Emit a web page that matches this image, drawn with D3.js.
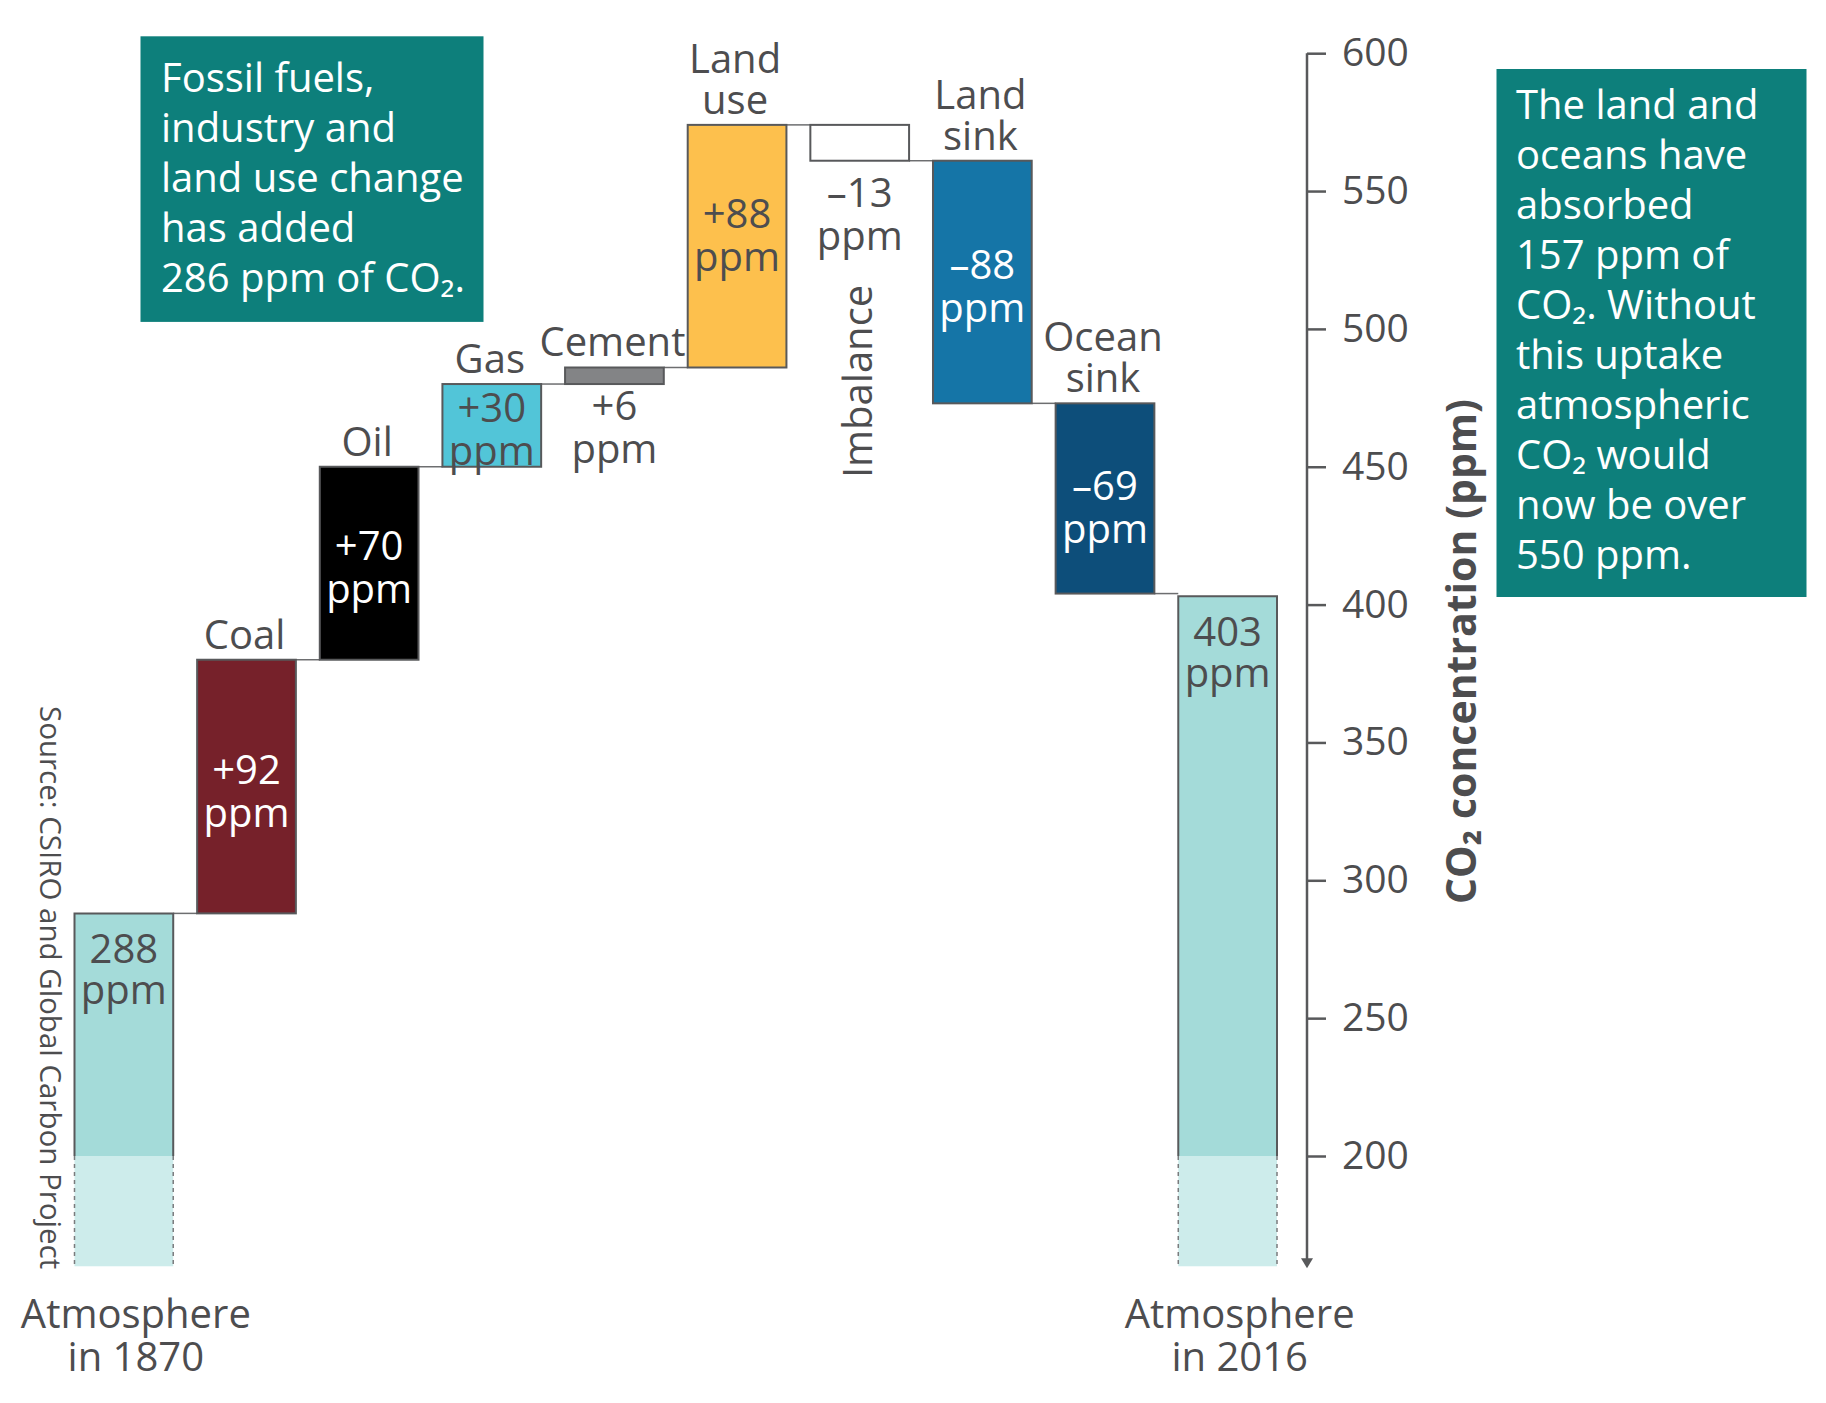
<!DOCTYPE html>
<html>
<head>
<meta charset="utf-8">
<script src="https://cdn.jsdelivr.net/npm/d3@7"></script>
<style>
	body { margin: 0; background: #fff; }
	text { font-family: "Open Sans", "Noto Sans", sans-serif; }
</style>
</head>
<body>
<svg id="chart"></svg>
<script>
// data
var startLabel	= ["Atmosphere", "in 1870"],
	endLabel	= ["Atmosphere", "in 2016"];
var startValue	= 288,
	endValue	= 403;
var flowNames	= [["Coal"], ["Oil"], ["Gas"], ["Cement"], ["Land", "use"], ["Imbalance"], ["Land", "sink"], ["Ocean", "sink"]];
var flowValues	= [92, 70, 30, 6, 88, -13, -88, -69];
var flowColors	= ["#76212a", "#000000", "#52c5d8", "#838486", "#fdc04d", "#ffffff", "#1575a7", "#0d4e7a"];
var yTicks	= [200, 250, 300, 350, 400, 450, 500, 550, 600];
var leftNote	= ["Fossil fuels,", "industry and", "land use change", "has added", "286 ppm of CO\u2082."];
var rightNote	= ["The land and", "oceans have", "absorbed", "157 ppm of", "CO\u2082. Without", "this uptake", "atmospheric", "CO\u2082 would", "now be over", "550 ppm."];
var axisTitle	= "CO\u2082 concentration (ppm)";
var sourceText	= "Source: CSIRO and Global Carbon Project";

(function() {
	var width = 1826, height = 1403,
		ink = "#4d4d4f", edge = "#58595b", teal = "#0d7f7b",
		atmoFill = "#a4dbd9", atmoLight = "#cdeceb",
		fontSize = 40, lineH = 41, baseValue = 160;

	var svg = d3.select("#chart").attr("width", width).attr("height", height);

	// running totals
	var steps = [], level = startValue;
	flowValues.forEach(function(v, i) {
		steps.push({ key: flowNames[i].join(" "), lines: flowNames[i], value: v, from: level, to: level + v, color: flowColors[i] });
		level += v;
	});
	var keys = ["start"].concat(steps.map(function(d) { return d.key; }), ["end"]);

	var x = d3.scaleBand().domain(keys).range([74.5, 1277]).paddingInner(0.195);
	var y = d3.scaleLinear().domain([200, 600]).range([1156, 53.2]);
	var bw = x.bandwidth();

	function fmt(v) { return (v > 0 ? "+" : "\u2013") + Math.abs(v); }
	function isDark(c) { return d3.hsl(c).l < 0.45; }

	// connectors
	var levels = [startValue].concat(steps.map(function(d) { return d.to; }));
	svg.append("g").selectAll("line").data(levels).enter().append("line")
		.attr("x1", function(d, i) { return x(keys[i]) + bw; })
		.attr("x2", function(d, i) { return x(keys[i + 1]); })
		.attr("y1", function(d) { return y(d); })
		.attr("y2", function(d) { return y(d); })
		.attr("stroke", "#6d6e70").attr("stroke-width", 1.5);

	// atmosphere columns
	var atmo = [{ key: "start", value: startValue, label: startLabel }, { key: "end", value: endValue, label: endLabel }];
	var ga = svg.append("g").selectAll("g").data(atmo).enter().append("g");
	ga.append("rect")
		.attr("x", function(d) { return x(d.key); }).attr("width", bw)
		.attr("y", y(200)).attr("height", y(baseValue) - y(200))
		.attr("fill", atmoLight);
	ga.append("rect")
		.attr("x", function(d) { return x(d.key); }).attr("width", bw)
		.attr("y", function(d) { return y(d.value); })
		.attr("height", function(d) { return y(200) - y(d.value); })
		.attr("fill", atmoFill);
	ga.append("path")
		.attr("d", function(d) { var l = x(d.key), r = l + bw; return "M" + l + "," + y(200) + "V" + y(d.value) + "H" + r + "V" + y(200); })
		.attr("fill", "none").attr("stroke", edge).attr("stroke-width", 2);
	ga.append("path")
		.attr("d", function(d) { var l = x(d.key), r = l + bw; return "M" + l + "," + y(200) + "V" + y(baseValue) + "M" + r + "," + y(200) + "V" + y(baseValue); })
		.attr("fill", "none").attr("stroke", "#7a7b7d").attr("stroke-width", 1.5).attr("stroke-dasharray", "4,4");
	ga.append("text")
		.attr("text-anchor", "middle").attr("fill", ink).style("font-size", fontSize + "px")
		.attr("x", function(d) { return x(d.key) + bw / 2; })
		.attr("y", function(d) { return y(d.value) + 50; })
		.selectAll("tspan").data(function(d) { return [d.value, "ppm"]; }).enter().append("tspan")
		.attr("x", function() { return d3.select(this.parentNode).attr("x"); })
		.attr("dy", function(d, i) { return i ? lineH : 0; })
		.text(function(d) { return d; });
	ga.append("text")
		.attr("text-anchor", "middle").attr("fill", ink).style("font-size", fontSize + "px")
		.selectAll("tspan").data(function(d) { return d.label.map(function(t) { return { t: t, k: d.key }; }); }).enter().append("tspan")
		.attr("x", function(d) { return x(d.k) + bw / 2 + 12; })
		.attr("y", function(d, i) { return 1328 + i * 43; })
		.text(function(d) { return d.t; });

	// flow bars
	var gs = svg.append("g").selectAll("g").data(steps).enter().append("g");
	gs.append("rect")
		.attr("x", function(d) { return x(d.key); }).attr("width", bw)
		.attr("y", function(d) { return y(Math.max(d.from, d.to)); })
		.attr("height", function(d) { return Math.abs(y(d.from) - y(d.to)); })
		.attr("fill", function(d) { return d.color; })
		.attr("stroke", edge).attr("stroke-width", 2);

	// names above the bars (imbalance is written sideways below)
	gs.filter(function(d) { return d.key != "Imbalance"; }).append("text")
		.attr("text-anchor", "middle").attr("fill", ink).style("font-size", fontSize + "px")
		.selectAll("tspan").data(function(d) { var n = d.lines.length; return d.lines.map(function(t, i) { return { t: t, d: d, off: n - 1 - i }; }); })
		.enter().append("tspan")
		.attr("x", function(e) { return x(e.d.key) + bw / 2 - 2; })
		.attr("y", function(e) { return y(Math.max(e.d.from, e.d.to)) - 11 - e.off * lineH; })
		.text(function(e) { return e.t; });

	// value labels: inside tall bars, under thin ones
	var nudge = { "Land use": -15, "Cement": -4, "Imbalance": 6, "Ocean sink": 5 };
	gs.append("text")
		.attr("text-anchor", "middle").style("font-size", fontSize + "px")
		.attr("fill", function(d) { return isDark(d.color) ? "#fff" : ink; })
		.each(function(d) {
			var top = y(Math.max(d.from, d.to)), bot = y(Math.min(d.from, d.to)),
				cx = x(d.key) + bw / 2,
				yy = (bot - top > 60 ? (top + bot) / 2 - 3 : bot + 40) + (nudge[d.key] || 0);
			d.labelY = yy;
			d3.select(this).selectAll("tspan").data([fmt(d.value), "ppm"]).enter().append("tspan")
				.attr("x", cx).attr("y", function(t, i) { return yy + i * 43; })
				.text(function(t) { return t; });
		});
	gs.filter(function(d) { return d.key == "Imbalance"; }).append("text")
		.attr("text-anchor", "end").attr("fill", ink).style("font-size", fontSize + "px")
		.attr("transform", function(d) { return "translate(" + (x(d.key) + bw / 2 + 12) + "," + (d.labelY + 43 + 35) + ") rotate(-90)"; })
		.text(function(d) { return d.key; });

	// y axis
	var ax = svg.append("g").attr("transform", "translate(1307,0)")
		.call(d3.axisRight(y).tickValues(yTicks).tickSize(19).tickSizeOuter(0).tickPadding(16));
	ax.select(".domain").remove();
	ax.selectAll(".tick line").attr("stroke", edge).attr("stroke-width", 2.5);
	ax.selectAll(".tick text").attr("fill", ink).style("font-size", "39px").style("font-family", "'Open Sans', sans-serif");
	ax.append("line").attr("y1", y(600)).attr("y2", y(baseValue) - 4).attr("stroke", edge).attr("stroke-width", 2.5);
	ax.append("path").attr("d", "M-6," + (y(baseValue) - 8) + "L6," + (y(baseValue) - 8) + "L0," + (y(baseValue) + 2) + "Z").attr("fill", edge);

	svg.append("text")
		.attr("transform", "translate(1476," + ((y(200) + y(550)) / 2 - 22) + ") rotate(-90)")
		.attr("text-anchor", "middle").attr("fill", ink)
		.style("font-size", "41px").style("font-weight", "bold")
		.text(axisTitle);

	svg.append("text")
		.attr("transform", "translate(40,706) rotate(90)")
		.attr("fill", ink).style("font-size", "29.5px")
		.text(sourceText);

	// notes
	function note(lines, bx, by, bwid, bht, tx, ty) {
		var g = svg.append("g");
		g.append("rect").attr("x", bx).attr("y", by).attr("width", bwid).attr("height", bht).attr("fill", teal);
		g.append("text").attr("fill", "#fff").style("font-size", fontSize + "px")
			.selectAll("tspan").data(lines).enter().append("tspan")
			.attr("x", tx).attr("y", function(d, i) { return ty + i * 50; })
			.text(function(d) { return d; });
	}
	note(leftNote, 140.5, 36.3, 343, 285.6, 161, 92);
	note(rightNote, 1496.5, 69, 310, 528, 1516, 119);
})();
</script>
</body>
</html>
